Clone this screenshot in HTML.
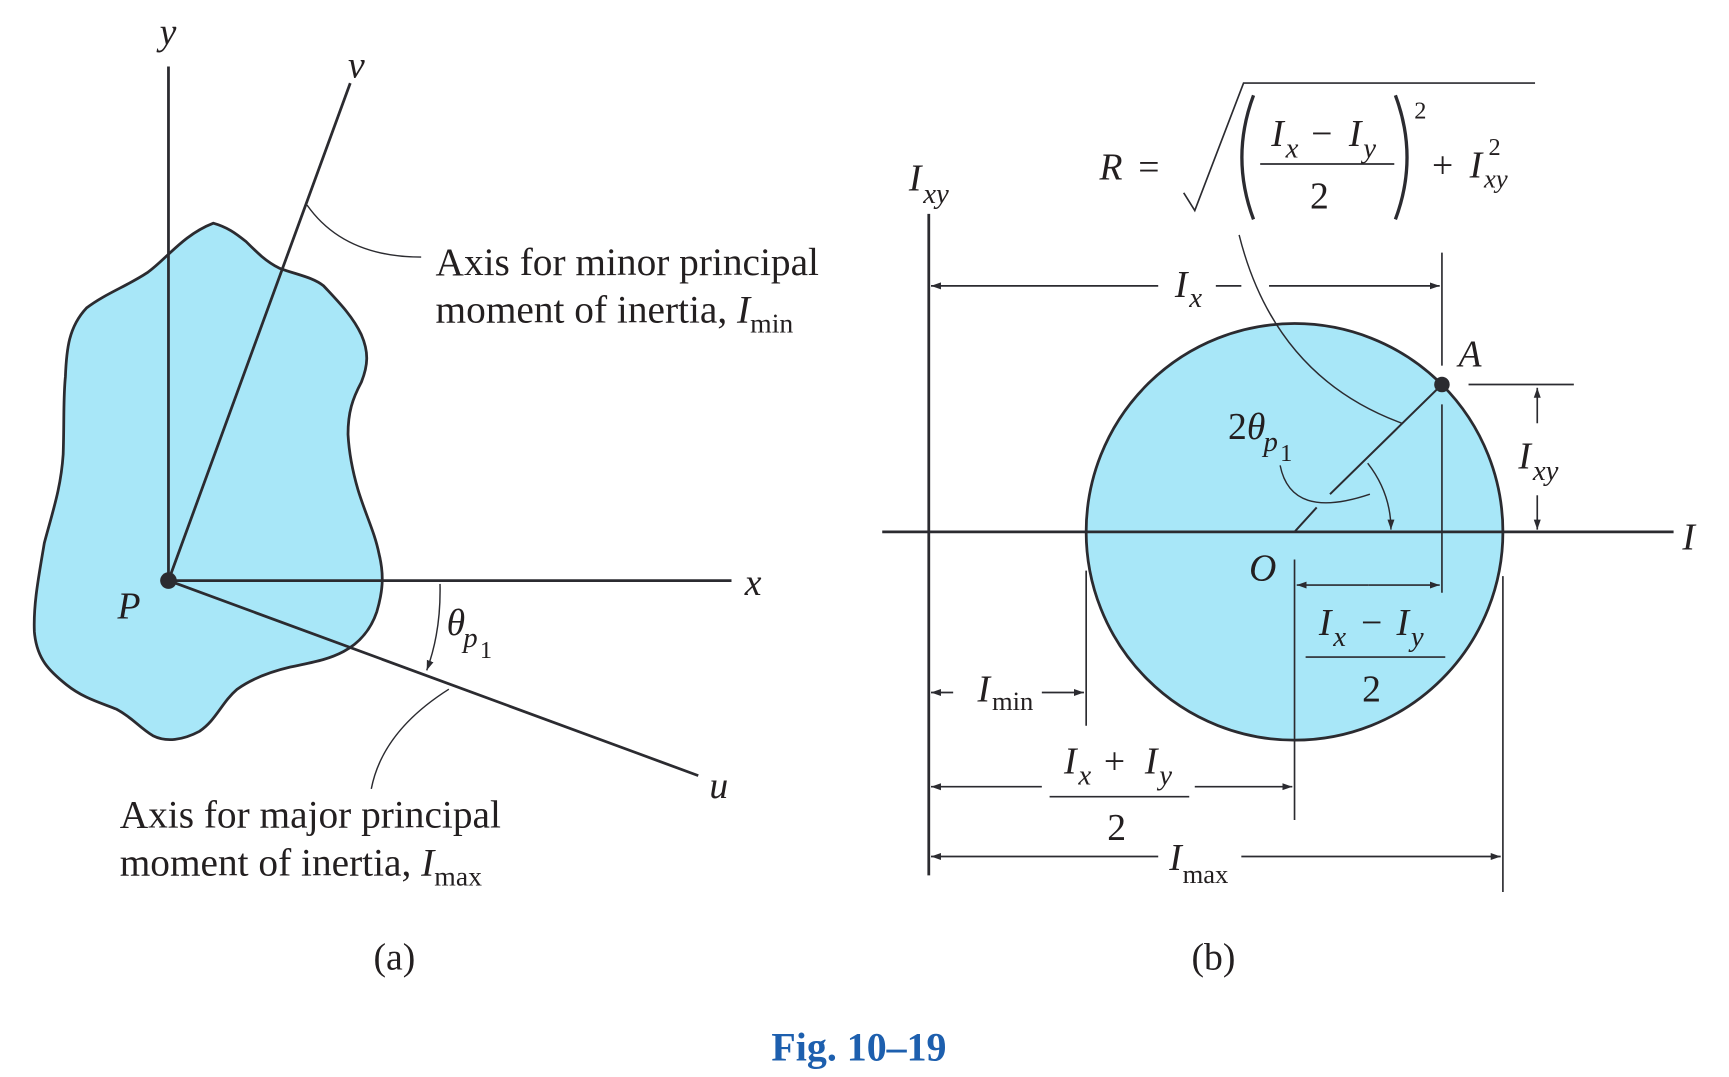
<!DOCTYPE html>
<html><head><meta charset="utf-8"><style>
html,body{margin:0;padding:0;background:#fff;}
svg{display:block;}
text{font-family:"Liberation Serif",serif;fill:#231f20;}
.i{font-style:italic;}
</style></head><body>
<svg width="1729" height="1077" viewBox="0 0 1560 972" preserveAspectRatio="none" xmlns="http://www.w3.org/2000/svg">
<defs>
<marker id="ar" viewBox="0 0 10 10" refX="10" refY="5" markerWidth="9" markerHeight="9" markerUnits="userSpaceOnUse" orient="auto"><path d="M0,1.5 L10,5 L0,8.5 Z" fill="#2b2b30"/></marker>
</defs>
<g stroke="#2b2b30" fill="none">
<path fill="#a8e7f8" stroke-width="2.5" stroke-linejoin="round" d="M192.5,201.4 C205,205 212,210 222,218 C232,228 240,236 252,242 C268,248 282,250 292,258 C305,272 318,285 326,302 C333,318 332,330 326,345 C318,360 314,372 314,392 C315,410 318,425 323,442 C330,465 338,480 342,500 C347,520 345,535 340,552 C335,567 325,580 310,588 C295,596 280,598 262,602 C245,606 228,612 214,622 C200,634 195,650 180,660 C165,668 150,670 138,664 C125,656 120,648 105,640 C90,634 75,630 60,618 C45,606 33,595 31,570 C30,545 35,520 40,490 C48,460 55,440 57,410 C58,380 57,360 59,340 C60,315 62,295 78,278 C95,265 115,258 133,246 C150,234 165,212 192.5,201.4 Z"/>
<line x1="152" y1="60" x2="152" y2="524" stroke-width="2.5"/>
<line x1="152" y1="524" x2="660" y2="524" stroke-width="2.5"/>
<line x1="152" y1="524" x2="316" y2="75" stroke-width="2.5"/>
<line x1="152" y1="524" x2="630" y2="700" stroke-width="2.5"/>
<path d="M277,185 Q310,232 380,232" stroke-width="1.3"/>
<path d="M405,622 Q345,660 335,712" stroke-width="1.3"/>
<path d="M397,527 Q398,570 385,605" stroke-width="1.3" marker-end="url(#ar)"/>
<circle cx="1168" cy="480" r="188" fill="#a8e7f8" stroke-width="2.5"/>
<line x1="838" y1="193" x2="838" y2="790" stroke-width="2.5"/>
<line x1="796" y1="480" x2="1510" y2="480" stroke-width="2.5"/>
<line x1="1301" y1="228" x2="1301" y2="330" stroke-width="1.5"/>
<line x1="1301" y1="365" x2="1301" y2="535" stroke-width="1.5"/>
<line x1="1301" y1="347" x2="1200" y2="446" stroke-width="1.8"/>
<line x1="1188" y1="458" x2="1168" y2="480" stroke-width="1.8"/>
<path d="M1118,212 Q1150,340 1265,382" stroke-width="1.3"/>
<path d="M1155,420 Q1165,470 1236,446" stroke-width="1.3"/>
<path d="M1234,418 Q1255,445 1255,478" stroke-width="1.3" marker-end="url(#ar)"/>
<line x1="1045" y1="258" x2="840" y2="258" stroke-width="1.5" marker-end="url(#ar)"/>
<line x1="1097" y1="258" x2="1120" y2="258" stroke-width="1.5"/>
<line x1="1145" y1="258" x2="1299" y2="258" stroke-width="1.5" marker-end="url(#ar)"/>
<line x1="1325" y1="347" x2="1420" y2="347" stroke-width="1.5"/>
<line x1="1387" y1="382" x2="1387" y2="350" stroke-width="1.5" marker-end="url(#ar)"/>
<line x1="1387" y1="447" x2="1387" y2="478" stroke-width="1.5" marker-end="url(#ar)"/>
<line x1="1168" y1="505" x2="1168" y2="740" stroke-width="1.5"/>
<line x1="1235" y1="528" x2="1170" y2="528" stroke-width="1.5" marker-end="url(#ar)"/>
<line x1="1235" y1="528" x2="1299" y2="528" stroke-width="1.5" marker-end="url(#ar)"/>
<line x1="1178" y1="593" x2="1304" y2="593" stroke-width="1.5"/>
<line x1="980" y1="515" x2="980" y2="655" stroke-width="1.5"/>
<line x1="860" y1="625" x2="840" y2="625" stroke-width="1.5" marker-end="url(#ar)"/>
<line x1="940" y1="625" x2="978" y2="625" stroke-width="1.5" marker-end="url(#ar)"/>
<line x1="940" y1="710" x2="840" y2="710" stroke-width="1.5" marker-end="url(#ar)"/>
<line x1="1078" y1="710" x2="1166" y2="710" stroke-width="1.5" marker-end="url(#ar)"/>
<line x1="947" y1="719" x2="1073" y2="719" stroke-width="1.5"/>
<line x1="1356" y1="520" x2="1356" y2="805" stroke-width="1.5"/>
<line x1="1045" y1="773" x2="840" y2="773" stroke-width="1.5" marker-end="url(#ar)"/>
<line x1="1120" y1="773" x2="1354" y2="773" stroke-width="1.5" marker-end="url(#ar)"/>
<path d="M1068,174 L1078,190 L1122,75 L1385,75" stroke-width="1.5"/>
<line x1="1137" y1="148" x2="1258" y2="148" stroke-width="1.5"/>
<path d="M1131,86 Q1110,142 1131,198" stroke-width="3"/>
<path d="M1259,86 Q1280,142 1259,198" stroke-width="3"/>
</g>
<circle cx="152" cy="524" r="7.5" fill="#2b2b30"/>
<circle cx="1301" cy="347" r="7" fill="#2b2b30"/>
<g font-size="34">
<text x="144" y="40" class="i">y</text>
<text x="314" y="70" class="i">v</text>
<text x="672" y="537" class="i">x</text>
<text x="640" y="720" class="i">u</text>
<text x="106" y="558" class="i">P</text>
<text x="403" y="573" class="i">θ</text>
<text x="418" y="584" class="i" font-size="26">p</text>
<text x="433" y="594" font-size="22">1</text>
<text x="393" y="248" font-size="35.5">Axis for minor principal</text>
<text x="393" y="291" font-size="35.5">moment of inertia, <tspan class="i">I</tspan><tspan font-size="25" dy="9">min</tspan></text>
<text x="108" y="747" font-size="35.5">Axis for major principal</text>
<text x="108" y="790" font-size="35.5">moment of inertia, <tspan class="i">I</tspan><tspan font-size="25" dy="9">max</tspan></text>
<text x="337" y="875">(a)</text>
<text x="1075" y="875">(b)</text>
<text x="820" y="172" class="i">I</text><text x="833" y="183" class="i" font-size="26">xy</text>
<text x="1518" y="496" class="i">I</text>
<text x="1060" y="268" class="i">I</text><text x="1073" y="277" class="i" font-size="26">x</text>
<text x="1316" y="331" class="i">A</text>
<text x="1370" y="423" class="i">I</text><text x="1383" y="433" class="i" font-size="26">xy</text>
<text x="1108" y="396">2<tspan class="i">θ</tspan></text><text x="1140" y="407" class="i" font-size="26">p</text><text x="1155" y="416" font-size="22">1</text>
<text x="1127" y="524" class="i">O</text>
<text x="1190" y="573" class="i">I</text><text x="1203" y="583" class="i" font-size="26">x</text><text x="1228" y="573">−</text><text x="1260" y="573" class="i">I</text><text x="1273" y="583" class="i" font-size="26">y</text>
<text x="1229" y="633">2</text>
<text x="882" y="633" class="i">I</text><text x="895" y="641" font-size="24">min</text>
<text x="960" y="698" class="i">I</text><text x="973" y="708" class="i" font-size="26">x</text><text x="996" y="698">+</text><text x="1033" y="698" class="i">I</text><text x="1046" y="708" class="i" font-size="26">y</text>
<text x="999" y="758">2</text>
<text x="1055" y="785" class="i">I</text><text x="1067" y="797" font-size="24">max</text>
<text x="992" y="162" class="i">R</text><text x="1027" y="162">=</text>
<text x="1147" y="132" class="i">I</text><text x="1160" y="142" class="i" font-size="26">x</text><text x="1183" y="132">−</text><text x="1217" y="132" class="i">I</text><text x="1230" y="142" class="i" font-size="26">y</text>
<text x="1182" y="188">2</text>
<text x="1276" y="107" font-size="22">2</text>
<text x="1292" y="160">+</text><text x="1326" y="160" class="i">I</text><text x="1339" y="169" class="i" font-size="24">xy</text><text x="1343" y="140" font-size="22">2</text>
</g>
<text x="775" y="957" text-anchor="middle" font-size="36" font-weight="bold" style="fill:#1d5fae">Fig. 10–19</text>
</svg>
</body></html>
